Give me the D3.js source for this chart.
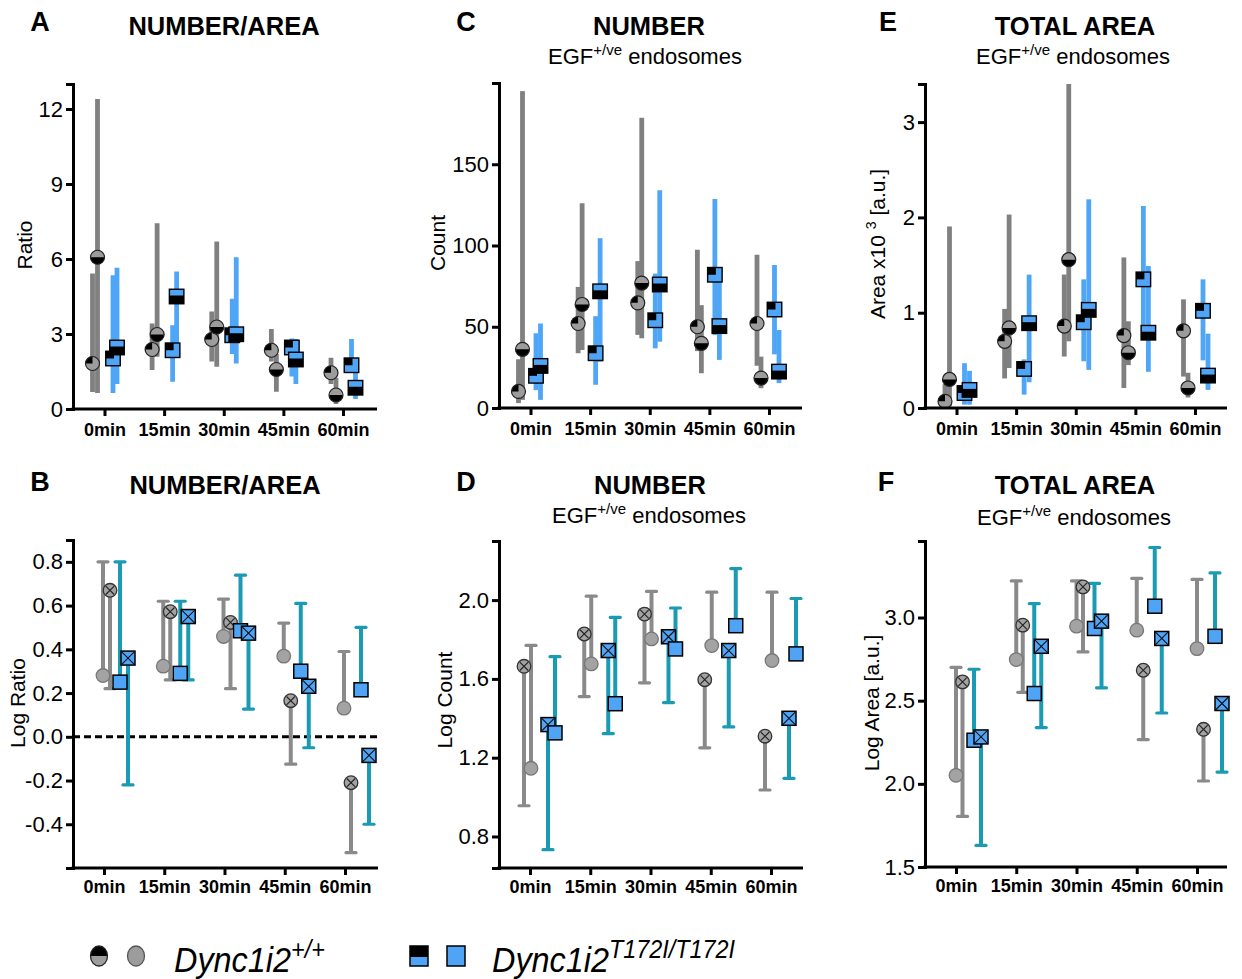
<!DOCTYPE html>
<html>
<head>
<meta charset="utf-8">
<script src="https://cdn.jsdelivr.net/npm/d3@7"></script>
<style>
  body { margin: 0; background: #fff; }
  svg { display: block; }
</style>
</head>
<body>
<svg id="fig" width="1242" height="979"></svg>
<script>
// ---------- categories ----------
const timepoints = ["0min", "15min", "30min", "45min", "60min"];

// ---------- A: number / area ratio (point, [low, high]) ----------
const ratioWt1 = [1.82, 2.38, 2.78, 2.35, 1.45];
const ratioWt1Range = [[0.68, 5.42], [1.56, 3.42], [1.9, 3.9], [1.9, 3.2], [1.0, 2.05]];
const ratioWt2 = [6.07, 2.98, 3.28, 1.58, 0.56];
const ratioWt2Range = [[0.64, 12.4], [2.09, 7.43], [1.69, 6.7], [0.69, 2.2], [0.2, 1.25]];
const ratioMut1 = [2.02, 2.35, 2.95, 2.46, 1.75];
const ratioMut1Range = [[0.64, 5.35], [1.09, 3.35], [2.2, 4.41], [1.3, 2.82], [1.5, 2.8]];
const ratioMut2 = [2.46, 4.5, 2.99, 1.98, 0.85];
const ratioMut2Range = [[1.0, 5.65], [2.3, 5.5], [1.82, 6.07], [1.0, 2.8], [0.4, 1.5]];

// ---------- C: endosome count ----------
const countWt1 = [10.2, 52, 64.7, 50, 52];
const countWt1Range = [[3, 30], [33.7, 74.5], [45, 90.4], [35, 97.4], [26, 94.3]];
const countWt2 = [36.1, 63.7, 76.9, 39.8, 18.4];
const countWt2Range = [[5, 195], [35.7, 126], [42.9, 178.6], [21.4, 63.3], [12.2, 31.6]];
const countMut1 = [19.8, 33.7, 54, 82, 60.6];
const countMut1Range = [[11, 46], [14.3, 56.5], [36.7, 82.7], [45, 128.6], [33, 88]];
const countMut2 = [25.9, 71.8, 76, 50.4, 22.4];
const countMut2Range = [[5, 52], [28.5, 104.5], [40.8, 134], [29.6, 84], [15.3, 48]];

// ---------- E: total endosome area (x10^3) ----------
const areaWt1 = [0.07, 0.70, 0.86, 0.76, 0.81];
const areaWt1Range = [[0.01, 0.25], [0.31, 1.04], [0.54, 1.40], [0.21, 1.58], [0.33, 1.14]];
const areaWt2 = [0.30, 0.84, 1.556, 0.58, 0.21];
const areaWt2Range = [[0.02, 1.905], [0.42, 2.03], [0.70, 3.4], [0.45, 0.91], [0.11, 0.37]];
const areaMut1 = [0.157, 0.41, 0.90, 1.35, 1.02];
const areaMut1Range = [[0.035, 0.47], [0.14, 0.51], [0.49, 1.35], [0.72, 2.12], [0.5, 1.35]];
const areaMut2 = [0.19, 0.89, 1.03, 0.79, 0.34];
const areaMut2Range = [[0.035, 0.39], [0.27, 1.40], [0.40, 2.19], [0.38, 1.49], [0.19, 0.78]];

// ---------- B: log ratio (plain = bar up, crossed = bar down) ----------
const logRatioWtPlain = [0.28, 0.323, 0.459, 0.369, 0.131];
const logRatioWtPlainHigh = [0.80, 0.62, 0.63, 0.52, 0.39];
const logRatioWtCross = [0.67, 0.572, 0.523, 0.165, -0.21];
const logRatioWtCrossLow = [0.22, 0.26, 0.22, -0.125, -0.53];
const logRatioMutPlain = [0.25, 0.29, 0.485, 0.30, 0.215];
const logRatioMutPlainHigh = [0.80, 0.62, 0.739, 0.61, 0.50];
const logRatioMutCross = [0.36, 0.55, 0.474, 0.231, -0.085];
const logRatioMutCrossLow = [-0.22, 0.26, 0.127, -0.05, -0.40];

// ---------- D: log count ----------
const logCountWtCross = [1.664, 1.828, 1.929, 1.596, 1.309];
const logCountWtCrossLow = [0.956, 1.51, 1.58, 1.25, 1.036];
const logCountWtPlain = [1.146, 1.676, 1.803, 1.769, 1.693];
const logCountWtPlainHigh = [1.77, 2.02, 2.044, 2.04, 2.04];
const logCountMutCross = [1.368, 1.744, 1.814, 1.744, 1.40];
const logCountMutCrossLow = [0.733, 1.322, 1.48, 1.356, 1.095];
const logCountMutPlain = [1.326, 1.474, 1.752, 1.87, 1.727];
const logCountMutPlainHigh = [1.713, 1.912, 1.96, 2.16, 2.008];

// ---------- F: log area ----------
const logAreaWtPlain = [2.051, 2.747, 2.948, 2.924, 2.813];
const logAreaWtPlainHigh = [2.70, 3.22, 3.22, 3.235, 3.229];
const logAreaWtCross = [2.613, 2.954, 3.184, 2.683, 2.328];
const logAreaWtCrossLow = [1.804, 2.55, 2.793, 2.266, 2.017];
const logAreaMutPlain = [2.262, 2.543, 2.934, 3.068, 2.887];
const logAreaMutPlainHigh = [2.689, 3.084, 3.205, 3.421, 3.268];
const logAreaMutCross = [2.282, 2.827, 2.978, 2.874, 2.483];
const logAreaMutCrossLow = [1.63, 2.338, 2.577, 2.426, 2.071];

// ---------- axis ticks ----------
const ratioTicks = [0, 3, 6, 9, 12];
const countTicks = [0, 50, 100, 150];
const areaTicks = [0, 1, 2, 3];
const logRatioTicks = [-0.4, -0.2, 0.0, 0.2, 0.4, 0.6, 0.8];
const logCountTicks = [0.8, 1.2, 1.6, 2.0];
const logAreaTicks = [1.5, 2.0, 2.5, 3.0];

// ---------- style ----------
const FONT = "'Liberation Sans', Arial, Helvetica, sans-serif";
const GRAY_BAR = "#808080";
const BLUE_BAR = "#4fa6f7";
const GRAY_MARK = "#9c9c9c";
const BLUE_MARK = "#4fa4f5";
const GRAY_ERR = "#8a8a8a";
const TEAL_ERR = "#1a9ab3";
const LOW_GRAY = "#a3a3a3";

const svg = d3.select("#fig");

function drawAxes(g, x, y, frame, ticks, fmt, xPad) {
  const ya = g.append("g")
    .attr("transform", `translate(${frame.left},0)`)
    .call(d3.axisLeft(y).tickValues(ticks).tickFormat(fmt)
      .tickSize(7).tickSizeOuter(7).tickPadding(3));
  ya.selectAll("path,line").attr("stroke", "#000").attr("stroke-width", 3).attr("fill", "none");
  ya.selectAll("text").attr("font-size", 22).attr("font-family", FONT).attr("fill", "#000");

  const xa = g.append("g")
    .attr("transform", `translate(0,${frame.bottom})`)
    .call(d3.axisBottom(x).tickSize(7).tickSizeOuter(0).tickPadding(xPad));
  xa.select(".domain").remove();
  xa.selectAll("line").attr("stroke", "#000").attr("stroke-width", 3);
  xa.selectAll("text").attr("font-size", 18).attr("font-weight", "bold")
    .attr("font-family", FONT).attr("fill", "#000");

  g.append("line")
    .attr("x1", frame.left - 1.5).attr("x2", frame.right)
    .attr("y1", frame.bottom).attr("y2", frame.bottom)
    .attr("stroke", "#000").attr("stroke-width", 3);
}

// half / quarter filled marker used in the range panels
function splitMarker(g, cx, cy, shape, fill, pattern) {
  if (shape === "circle") {
    const r = 7;
    g.append("circle").attr("cx", cx).attr("cy", cy).attr("r", r).attr("fill", fill);
    let d;
    if (pattern === "half") {
      d = `M${cx - r},${cy} A${r},${r} 0 0 0 ${cx + r},${cy} Z`;
    } else {
      d = `M${cx},${cy} L${cx - r},${cy} A${r},${r} 0 0 1 ${cx},${cy - r} Z`;
    }
    g.append("path").attr("d", d).attr("fill", "#000");
    g.append("circle").attr("cx", cx).attr("cy", cy).attr("r", r)
      .attr("fill", "none").attr("stroke", "#222").attr("stroke-width", 1.2);
  } else {
    const s = 14.5, h = s / 2;
    g.append("rect").attr("x", cx - h).attr("y", cy - h).attr("width", s).attr("height", s).attr("fill", fill);
    if (pattern === "half") {
      g.append("rect").attr("x", cx - h).attr("y", cy - 1).attr("width", s).attr("height", h + 1).attr("fill", "#000");
    } else {
      g.append("rect").attr("x", cx - h).attr("y", cy - h).attr("width", h + 1).attr("height", h).attr("fill", "#000");
    }
    g.append("rect").attr("x", cx - h).attr("y", cy - h).attr("width", s).attr("height", s)
      .attr("fill", "none").attr("stroke", "#000").attr("stroke-width", 1.4);
  }
}

function rangePanel(frame, domain, ticks, fmt, series) {
  const g = svg.append("g");
  const x = d3.scalePoint().domain(timepoints).range([frame.left + 31.5, frame.left + 270]);
  const y = d3.scaleLinear().domain(domain).range([frame.bottom, frame.top]);

  series.forEach(s => {
    g.selectAll(null).data(s.range).join("rect")
      .attr("x", (d, i) => x(timepoints[i]) + s.off - 2.4)
      .attr("width", 4.8)
      .attr("y", d => y(Math.min(d[1], domain[1])))
      .attr("height", d => y(d[0]) - y(Math.min(d[1], domain[1])))
      .attr("fill", s.bar);
  });
  series.forEach(s => {
    s.val.forEach((v, i) => splitMarker(g, x(timepoints[i]) + s.off, y(v), s.shape, s.fill, s.pattern));
  });
  drawAxes(g, x, y, frame, ticks, fmt, 7);
  return g;
}

function plainMarker(g, cx, cy, shape, crossed) {
  if (shape === "circle") {
    const r = 6.8;
    g.append("circle").attr("cx", cx).attr("cy", cy).attr("r", r)
      .attr("fill", LOW_GRAY).attr("stroke", crossed ? "#333" : "#777").attr("stroke-width", 1.3);
    if (crossed) {
      const k = r * 0.62;
      g.append("path").attr("d", `M${cx - k},${cy - k}L${cx + k},${cy + k}M${cx - k},${cy + k}L${cx + k},${cy - k}`)
        .attr("stroke", "#222").attr("stroke-width", 1.1);
    }
  } else {
    const s = 14, h = s / 2;
    g.append("rect").attr("x", cx - h).attr("y", cy - h).attr("width", s).attr("height", s)
      .attr("fill", BLUE_MARK).attr("stroke", "#000").attr("stroke-width", 1.5);
    if (crossed) {
      g.append("path").attr("d", `M${cx - h},${cy - h}L${cx + h},${cy + h}M${cx - h},${cy + h}L${cx + h},${cy - h}`)
        .attr("stroke", "#111").attr("stroke-width", 1.1);
    }
  }
}

function errorPanel(frame, domain, ticks, fmt, series, zeroLine) {
  const g = svg.append("g");
  const x = d3.scalePoint().domain(timepoints).range([frame.left + 31, frame.left + 272]);
  const y = d3.scaleLinear().domain(domain).range([frame.bottom, frame.top]);

  if (zeroLine) {
    g.append("line").attr("x1", frame.left).attr("x2", frame.right)
      .attr("y1", y(0)).attr("y2", y(0))
      .attr("stroke", "#000").attr("stroke-width", 3).attr("stroke-dasharray", "7,4");
  }
  series.forEach(s => {
    s.val.forEach((v, i) => {
      const cx = x(timepoints[i]) + s.off;
      const e = s.end[i];
      g.append("line").attr("x1", cx).attr("x2", cx).attr("y1", y(v)).attr("y2", y(e))
        .attr("stroke", s.bar).attr("stroke-width", 4);
      g.append("line").attr("x1", cx - 5).attr("x2", cx + 5).attr("y1", y(e)).attr("y2", y(e))
        .attr("stroke", s.bar).attr("stroke-width", 3.2).attr("stroke-linecap", "round");
    });
  });
  series.forEach(s => {
    s.val.forEach((v, i) => plainMarker(g, x(timepoints[i]) + s.off, y(v), s.shape, s.crossed));
  });
  drawAxes(g, x, y, frame, ticks, fmt, 5);
  return g;
}

// ---------- text helpers ----------
function label(txt, x, y, size, weight, anchor) {
  return svg.append("text").attr("x", x).attr("y", y).attr("font-size", size)
    .attr("font-weight", weight || "normal").attr("font-family", FONT)
    .attr("text-anchor", anchor || "middle").attr("fill", "#000").text(txt);
}
function subtitle(x, y) {
  const t = svg.append("text").attr("x", x).attr("y", y).attr("font-size", 22)
    .attr("font-family", FONT).attr("text-anchor", "middle").attr("fill", "#000");
  t.append("tspan").text("EGF");
  t.append("tspan").attr("font-size", 15).attr("dy", -9).text("+/ve");
  t.append("tspan").attr("dy", 9).text(" endosomes");
}
function yTitle(x, y, parts) {
  const t = svg.append("text").attr("transform", `translate(${x},${y}) rotate(-90)`)
    .attr("font-size", 21).attr("font-family", FONT).attr("text-anchor", "middle").attr("fill", "#000");
  parts.forEach(p => {
    const s = t.append("tspan").text(p.t);
    if (p.sup) s.attr("font-size", 14).attr("dy", -9);
    if (p.down) s.attr("dy", 9);
  });
}

const int = d => String(d);
const one = d => d.toFixed(1);

// ---------- top row: ranges ----------
rangePanel({ left: 73, right: 377, top: 84, bottom: 409 }, [0, 13], ratioTicks, int, [
  { val: ratioWt1, range: ratioWt1Range, off: -12, shape: "circle", fill: GRAY_MARK, bar: GRAY_BAR, pattern: "quad" },
  { val: ratioWt2, range: ratioWt2Range, off: -7, shape: "circle", fill: GRAY_MARK, bar: GRAY_BAR, pattern: "half" },
  { val: ratioMut1, range: ratioMut1Range, off: 8.5, shape: "square", fill: BLUE_MARK, bar: BLUE_BAR, pattern: "quad" },
  { val: ratioMut2, range: ratioMut2Range, off: 12.5, shape: "square", fill: BLUE_MARK, bar: BLUE_BAR, pattern: "half" }
]);
rangePanel({ left: 499, right: 802, top: 83, bottom: 408 }, [0, 200], countTicks, int, [
  { val: countWt1, range: countWt1Range, off: -12, shape: "circle", fill: GRAY_MARK, bar: GRAY_BAR, pattern: "quad" },
  { val: countWt2, range: countWt2Range, off: -8, shape: "circle", fill: GRAY_MARK, bar: GRAY_BAR, pattern: "half" },
  { val: countMut1, range: countMut1Range, off: 5.5, shape: "square", fill: BLUE_MARK, bar: BLUE_BAR, pattern: "quad" },
  { val: countMut2, range: countMut2Range, off: 10, shape: "square", fill: BLUE_MARK, bar: BLUE_BAR, pattern: "half" }
]);
rangePanel({ left: 925, right: 1227, top: 84, bottom: 408 }, [0, 3.4], areaTicks, int, [
  { val: areaWt1, range: areaWt1Range, off: -11.5, shape: "circle", fill: GRAY_MARK, bar: GRAY_BAR, pattern: "quad" },
  { val: areaWt2, range: areaWt2Range, off: -7, shape: "circle", fill: GRAY_MARK, bar: GRAY_BAR, pattern: "half" },
  { val: areaMut1, range: areaMut1Range, off: 8, shape: "square", fill: BLUE_MARK, bar: BLUE_BAR, pattern: "quad" },
  { val: areaMut2, range: areaMut2Range, off: 13, shape: "square", fill: BLUE_MARK, bar: BLUE_BAR, pattern: "half" }
]);

// ---------- bottom row: log values with one-sided error bars ----------
errorPanel({ left: 73, right: 378, top: 540, bottom: 868 }, [-0.6, 0.9], logRatioTicks, one, [
  { val: logRatioWtPlain, end: logRatioWtPlainHigh, off: -1, shape: "circle", crossed: false, bar: GRAY_ERR },
  { val: logRatioWtCross, end: logRatioWtCrossLow, off: 6, shape: "circle", crossed: true, bar: GRAY_ERR },
  { val: logRatioMutPlain, end: logRatioMutPlainHigh, off: 16, shape: "square", crossed: false, bar: TEAL_ERR },
  { val: logRatioMutCross, end: logRatioMutCrossLow, off: 24, shape: "square", crossed: true, bar: TEAL_ERR }
], true);
errorPanel({ left: 499, right: 803, top: 541, bottom: 868 }, [0.64, 2.3], logCountTicks, one, [
  { val: logCountWtCross, end: logCountWtCrossLow, off: -6, shape: "circle", crossed: true, bar: GRAY_ERR },
  { val: logCountWtPlain, end: logCountWtPlainHigh, off: 1, shape: "circle", crossed: false, bar: GRAY_ERR },
  { val: logCountMutCross, end: logCountMutCrossLow, off: 18, shape: "square", crossed: true, bar: TEAL_ERR },
  { val: logCountMutPlain, end: logCountMutPlainHigh, off: 25, shape: "square", crossed: false, bar: TEAL_ERR }
], false);
errorPanel({ left: 925, right: 1227, top: 541, bottom: 867 }, [1.5, 3.46], logAreaTicks, one, [
  { val: logAreaWtPlain, end: logAreaWtPlainHigh, off: 0, shape: "circle", crossed: false, bar: GRAY_ERR },
  { val: logAreaWtCross, end: logAreaWtCrossLow, off: 6.5, shape: "circle", crossed: true, bar: GRAY_ERR },
  { val: logAreaMutPlain, end: logAreaMutPlainHigh, off: 18, shape: "square", crossed: false, bar: TEAL_ERR },
  { val: logAreaMutCross, end: logAreaMutCrossLow, off: 25, shape: "square", crossed: true, bar: TEAL_ERR }
], false);

// ---------- panel letters, titles ----------
label("A", 40, 31, 27, "bold");
label("NUMBER/AREA", 224, 35, 25.5, "bold");
label("C", 466, 31, 27, "bold");
label("NUMBER", 649, 35, 25.5, "bold");
subtitle(645, 64);
label("E", 888, 31, 27, "bold");
label("TOTAL AREA", 1075, 35, 25.5, "bold");
subtitle(1073, 64);

label("B", 40, 491, 27, "bold");
label("NUMBER/AREA", 225, 494, 25.5, "bold");
label("D", 466, 491, 27, "bold");
label("NUMBER", 650, 494, 25.5, "bold");
subtitle(649, 523);
label("F", 886, 491, 27, "bold");
label("TOTAL AREA", 1075, 494, 25.5, "bold");
subtitle(1074, 525);

// ---------- y axis titles ----------
yTitle(32, 245, [{ t: "Ratio" }]);
yTitle(445, 243, [{ t: "Count" }]);
yTitle(885, 244, [{ t: "Area x10 " }, { t: "3", sup: true }, { t: " [a.u.]", down: true }]);
yTitle(25, 703, [{ t: "Log Ratio" }]);
yTitle(452, 700, [{ t: "Log Count" }]);
yTitle(879, 703, [{ t: "Log Area [a.u.]" }]);

// ---------- legend ----------
const lg = svg.append("g");
// wild type: split + plain ellipse
lg.append("ellipse").attr("cx", 99).attr("cy", 956).attr("rx", 8.5).attr("ry", 10).attr("fill", GRAY_MARK);
lg.append("path").attr("d", "M90.5,956 A8.5,10 0 0 1 107.5,956 Z").attr("fill", "#000");
lg.append("ellipse").attr("cx", 99).attr("cy", 956).attr("rx", 8.5).attr("ry", 10)
  .attr("fill", "none").attr("stroke", "#222").attr("stroke-width", 1.3);
lg.append("ellipse").attr("cx", 136).attr("cy", 956).attr("rx", 8.5).attr("ry", 10)
  .attr("fill", GRAY_MARK).attr("stroke", "#555").attr("stroke-width", 1.3);
// mutant: split + plain square
lg.append("rect").attr("x", 410).attr("y", 946).attr("width", 18).attr("height", 20).attr("fill", BLUE_MARK);
lg.append("rect").attr("x", 410).attr("y", 946).attr("width", 18).attr("height", 11).attr("fill", "#000");
lg.append("rect").attr("x", 410).attr("y", 946).attr("width", 18).attr("height", 20)
  .attr("fill", "none").attr("stroke", "#000").attr("stroke-width", 1.5);
lg.append("rect").attr("x", 447).attr("y", 946).attr("width", 18).attr("height", 20)
  .attr("fill", BLUE_MARK).attr("stroke", "#000").attr("stroke-width", 1.5);

function legendText(x, sup) {
  const t = lg.append("text").attr("transform", `translate(${x},972) scale(0.9,1)`)
    .attr("font-size", 36).attr("font-style", "italic").attr("font-family", FONT).attr("fill", "#000");
  t.append("tspan").text("Dync1i2");
  t.append("tspan").attr("font-size", 26).attr("dy", -14).text(sup);
}
legendText(174, "+/+");
legendText(492, "T172I/T172I");
</script>
</body>
</html>
